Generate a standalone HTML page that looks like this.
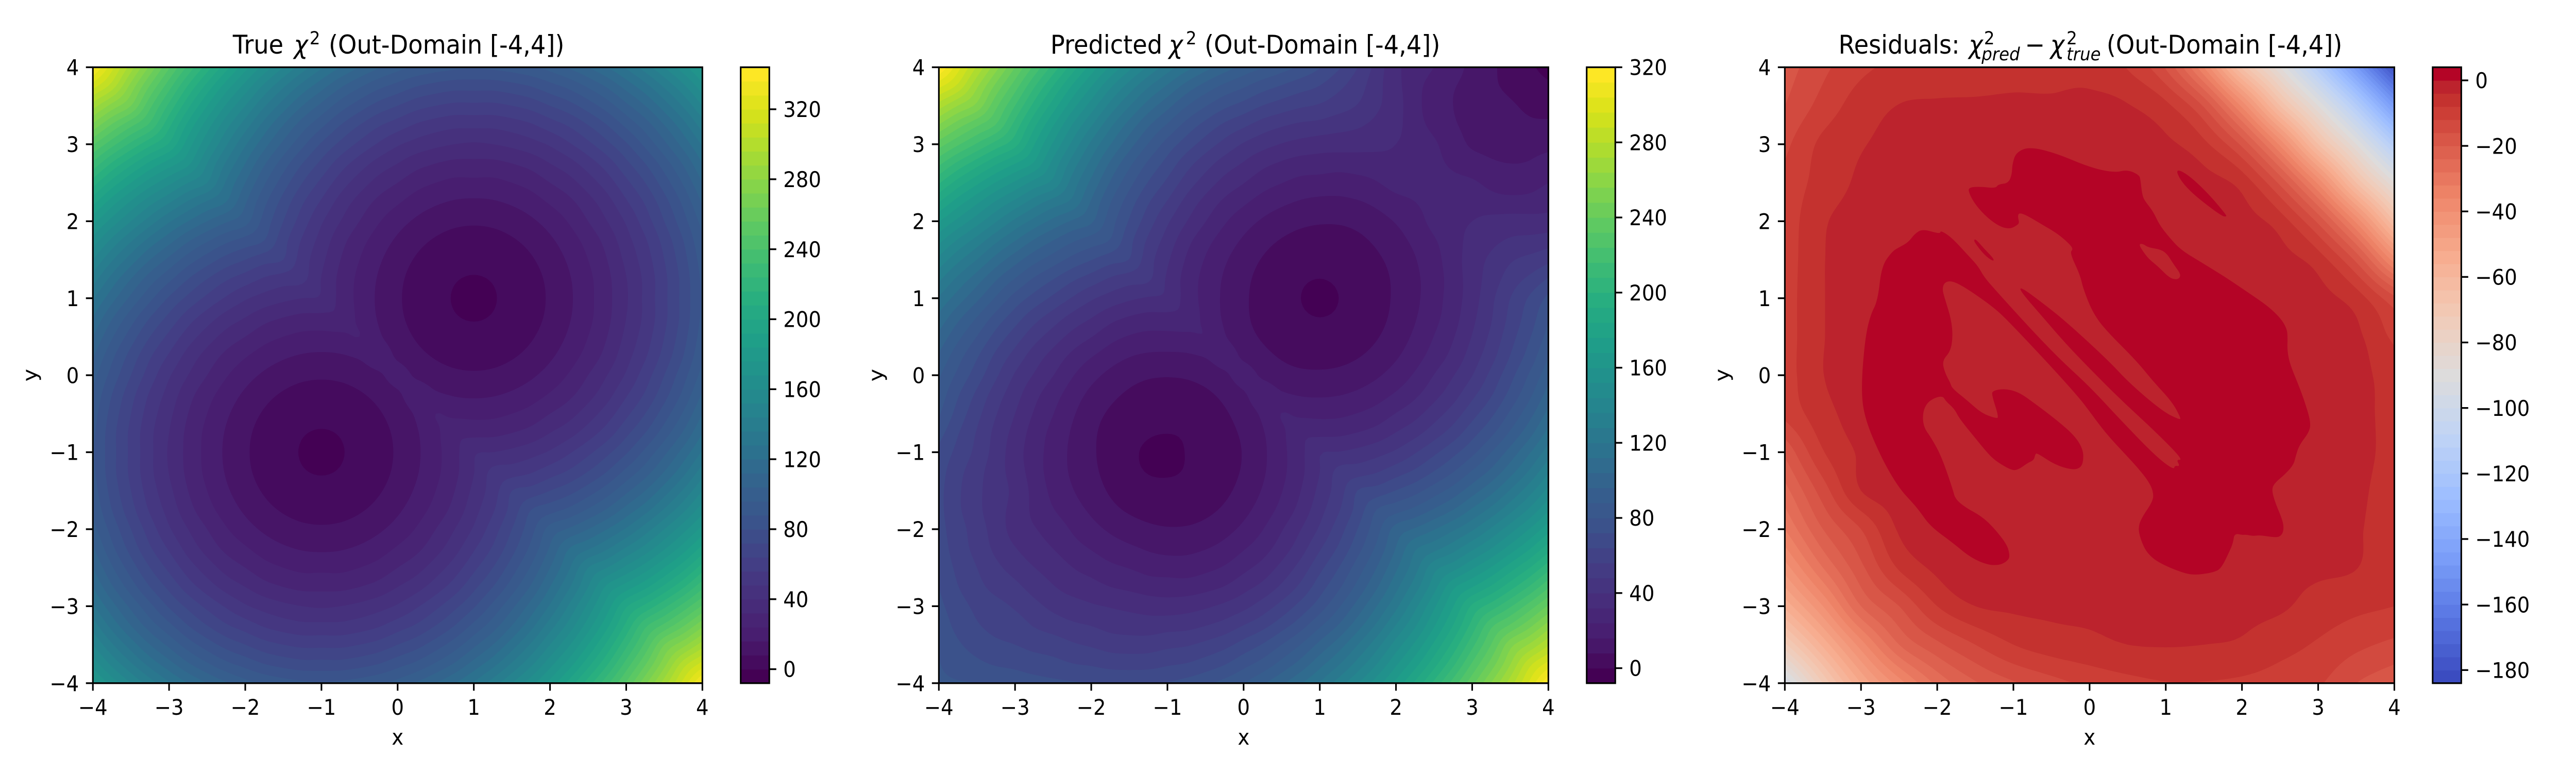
<!DOCTYPE html>
<html>
<head>
<meta charset="utf-8">
<title>Chi-squared out-domain comparison</title>
<style>
html,body{margin:0;padding:0;background:#fff;width:100%;height:100%;overflow:hidden;}
svg{display:block;width:100vw;height:100vh;}
text{font-family:"DejaVu Sans","Liberation Sans",sans-serif;fill:#000;}
.tick{font-size:41.67px;}
.label{font-size:41.67px;}
.title{font-size:50px;}
.sm{font-size:35px;}
.it{font-style:italic;}
</style>
</head>
<body>
<svg id="figure" xmlns="http://www.w3.org/2000/svg" viewBox="0 0 5400 1500" preserveAspectRatio="none">
  <rect x="0" y="0" width="5400" height="1500" fill="#ffffff"/>
  <g id="marks"></g>

  <text class="title" y="104"><tspan x="488">True </tspan><tspan x="616" class="it">χ</tspan><tspan x="649" y="86" class="sm">2</tspan><tspan x="689" y="104">(Out-Domain [-4,4])</tspan></text>
  <text class="title" y="104"><tspan x="2202">Predicted </tspan><tspan x="2450" class="it">χ</tspan><tspan x="2486" y="86" class="sm">2</tspan><tspan x="2525" y="104">(Out-Domain [-4,4])</tspan></text>
  <text class="title" y="104"><tspan x="3854">Residuals: </tspan><tspan x="4127" class="it">χ</tspan><tspan x="4159" y="86" class="sm">2</tspan><tspan x="4154" y="117" class="sm it">pred</tspan><tspan x="4245" y="104">−</tspan><tspan x="4298" class="it">χ</tspan><tspan x="4332" y="86" class="sm">2</tspan><tspan x="4332" y="117" class="sm it">true</tspan><tspan x="4416" y="104">(Out-Domain [-4,4])</tspan></text>

  <text class="label" text-anchor="middle" x="833.5" y="1445">x</text>
  <text class="label" text-anchor="middle" x="2607" y="1445">x</text>
  <text class="label" text-anchor="middle" x="4380.3" y="1445">x</text>
  <text class="label" text-anchor="middle" transform="translate(77 728) rotate(-90)">y</text>
  <text class="label" text-anchor="middle" transform="translate(1850.4 728) rotate(-90)">y</text>
  <text class="label" text-anchor="middle" transform="translate(3623.8 728) rotate(-90)">y</text>
</svg>

<script>
// ---- axis ticks ----
const xTicks = [-4,-3,-2,-1,0,1,2,3,4];
const yTicks = [-4,-3,-2,-1,0,1,2,3,4];
const trueColorbarTicks = [0,40,80,120,160,200,240,280,320];
const predictedColorbarTicks = [0,40,80,120,160,200,240,280,320];
const residualColorbarTicks = [0,-20,-40,-60,-80,-100,-120,-140,-160,-180];

// ---- contour levels ----
const trueLevels = [-8,0,8,16,24,32,40,48,56,64,72,80,88,96,104,112,120,128,136,144,152,160,168,176,184,192,200,208,216,224,232,240,248,256,264,272,280,288,296,304,312,320,328,336,344];
const predictedLevels = [-8,0,8,16,24,32,40,48,56,64,72,80,88,96,104,112,120,128,136,144,152,160,168,176,184,192,200,208,216,224,232,240,248,256,264,272,280,288,296,304,312,320];
const residualLevels = [-184,-180,-176,-172,-168,-164,-160,-156,-152,-148,-144,-140,-136,-132,-128,-124,-120,-116,-112,-108,-104,-100,-96,-92,-88,-84,-80,-76,-72,-68,-64,-60,-56,-52,-48,-44,-40,-36,-32,-28,-24,-20,-16,-12,-8,-4,0,4];

// ---- colormaps ----
const viridisStops = ["#440154","#481c6e","#472d7b","#433e85","#3b528b","#35608d","#2c728e","#26828e","#21918c","#1fa088","#28ae80","#3fbc73","#5ec962","#84d44b","#addc30","#d8e219","#fde725"];
const coolwarmStops = [[0,"#3b4cc0"],[0.1,"#5977e3"],[0.2,"#7b9ff9"],[0.3,"#9ebeff"],[0.4,"#c0d4f5"],[0.5,"#dddcdc"],[0.6,"#f2cbb7"],[0.7,"#f7ac8e"],[0.8,"#ee8468"],[0.9,"#d65244"],[0.95,"#c73530"],[0.975,"#bd282e"],[1,"#b40426"]];

// ---- True chi2, y = 4 down to y = 0 in 0.25 steps, x = -4 to 4 in 0.25 steps (the lower half is the point mirror) ----
const chi2TrueUpperRows = [
[339,315,292,270,249,230,212,195,179,165,152,140,129,120,112,105,99,95,92,90,89,90,92,95,99,105,112,120,129,140,152,165,179],
[315,300,277,255,235,215,197,180,165,150,137,125,115,105,97,90,85,80,77,75,75,75,77,80,85,90,97,105,115,125,137,150,165],
[292,277,264,242,222,202,184,167,152,137,124,112,102,92,84,77,72,67,64,62,62,62,64,67,72,77,84,92,102,112,124,137,152],
[270,255,242,230,210,190,172,155,140,125,112,100,90,80,72,65,60,55,52,50,50,50,52,55,60,65,72,80,90,100,112,125,140],
[249,235,222,210,199,180,162,145,129,115,102,90,79,70,62,55,49,45,42,40,39,40,42,45,49,55,62,70,79,90,102,115,129],
[230,215,202,190,180,170,152,135,120,105,92,80,70,60,52,45,40,35,32,30,30,30,32,35,40,45,52,60,70,80,92,105,120],
[212,197,184,172,162,152,144,127,112,97,84,72,62,52,44,37,32,27,24,22,22,22,24,27,32,37,44,52,62,72,84,97,112],
[195,180,167,155,145,135,127,120,105,90,77,65,55,45,37,30,25,20.3,17.2,15.3,14.7,15.3,17.2,20.3,25,30,37,45,55,65,77,90,105],
[179,165,152,140,129,120,112,105,99,85,72,60,49,40,32,24.7,19.1,14.7,11.6,9.7,9.1,9.7,11.6,14.7,19.1,24.7,32,40,49,60,72,85,99],
[165,150,137,125,115,105,97,90,85,80,67,55,45,35,27,20.3,14.7,10.3,7.2,5.3,4.7,5.3,7.2,10.3,14.7,20.3,27,35,45,55,67,80,95],
[152,137,124,112,102,92,84,77,72,67,64,52,42,32,24,17.2,11.6,7.2,4.1,2.2,1.6,2.2,4.1,7.2,11.6,17.2,24,32,42,52,64,77,92],
[140,125,112,100,90,80,72,65,60,55,52,50,39.7,30,22,15.3,9.7,5.3,2.2,0.3,-0.3,0.3,2.2,5.3,9.7,15.3,22,30,39.7,50,62,75,90],
[129,115,102,90,79,70,62,55,49,45,42,40,39,29.7,21.6,14.7,9.1,4.7,1.6,-0.3,-0.9,-0.3,1.6,4.7,9.1,14.7,21.6,29.7,39,50,62,75,89],
[120,105,92,80,70,60,52,45,40,35,32,30,29.7,30,22,15.3,9.7,5.3,2.2,0.3,-0.3,0.3,2.2,5.3,9.7,15.3,22,30,40,50,62,75,90],
[112,97,84,72,62,52,44,37,32,27,24,22,21.6,22,24,17.2,11.6,7.2,4.1,2.2,1.6,2.2,4.1,7.2,11.6,17.2,24,32,42,52,64,77,92],
[105,90,77,65,55,45,37,30,24.7,20.3,17.2,15.3,14.7,15.3,17.2,20.3,14.7,10.3,7.2,5.3,4.7,5.3,7.2,10.3,14.7,20.3,27,35,45,55,67,80,95],
[99,85,72,60,49,40,32,24.7,19.1,14.7,11.6,9.7,9.1,9.7,11.6,14.7,19.1,14.7,11.6,9.7,9.1,9.7,11.6,14.7,19.1,24.7,32,40,49,60,72,85,99]
];

// ---- Residuals, y = 4 down to y = -4 in 0.5 steps, x = -4 to 4 in 0.5 steps ----
const residualRows = [
[-18,-13,-9,-7,-6.3,-5.6,-5,-5,-5.5,-8.3,-16.5,-36,-65,-88,-115,-147,-181],
[-16,-10.5,-6,-3.9,-3.6,-3.6,-3.5,-3.5,-3,-3.8,-7,-16.5,-37,-64,-88,-115,-147],
[-13,-7,-4.3,-3,-2.8,-2.6,-2.2,-1.7,-1.8,-2.4,-3.2,-7,-17,-37,-64,-88,-115],
[-11,-6.2,-3.4,-2.4,-1.9,-1.3,0.2,0.3,0.3,0.2,-1,-2.5,-5.5,-17,-37,-64,-88],
[-10.5,-4.5,-2.8,-2.2,-1.6,-0.8,0.2,0.2,0.3,0.3,-0.3,-1.5,-2.5,-6,-17,-37,-64],
[-10.3,-4.2,-2.6,0.1,0.3,-0.3,-0.8,-0.6,0.2,0.3,0.2,0.2,-1,-2.6,-6,-17,-38],
[-10,-4.2,-2.2,0.2,0.2,-0.6,-0.8,-0.5,0.2,0.3,0.3,0.3,0.2,-1,-2.6,-6,-15],
[-10,-4.2,-2,0.2,0.3,-0.6,0.2,-0.5,-0.5,0.3,0.3,0.3,0.3,0.2,-1.6,-3.2,-9],
[-10,-4.1,-1.8,0.2,-0.5,-0.8,-0.6,-0.6,0.2,-0.3,0.3,0.3,0.3,0.2,-1.2,-2.7,-6],
[-11,-5.5,-2,0.2,-0.5,0.2,0.2,-0.6,0.2,0.2,0.3,0.3,0.3,0.3,-1,-2.7,-5.5],
[-19,-8.3,-3.4,-1,0.2,-0.6,0.3,0.3,-0.6,0.2,0.3,0.3,0.3,0.2,-1.2,-3,-5],
[-25.5,-14,-4,-2,0.2,-0.8,-0.4,-0.8,-0.8,-0.3,0.2,0.3,0.3,0.1,-1.6,-3.3,-5.5],
[-32,-20,-12,-3.5,-0.5,0.2,-0.5,-1.2,-1.2,-0.6,0.2,0.3,0.1,-0.5,-2.2,-3.6,-6],
[-42,-28,-17,-7.5,-3,-0.3,-1.6,-2,-2.2,-1.6,-0.2,-0.1,-1.5,-2.8,-3.3,-3.9,-7],
[-55,-40,-24,-16,-8,-4,-3.3,-3.2,-3.3,-3.3,-3,-2.8,-3.1,-3.5,-5.5,-7,-8],
[-73,-55,-38,-24,-17,-12,-8,-6,-5,-4,-3.8,-4,-4.5,-6.5,-8.5,-11,-13],
[-97,-72,-52,-38,-27,-20.5,-16.5,-13.5,-11,-9.3,-8.2,-8.2,-8.8,-10,-11.5,-16,-19]
];

// ---- Residual > 0 region outlines, in data coordinates (x, y) ----
const residualPositiveMain = [
[-1.016,2.729],[-0.97,2.89],[-0.79,2.97],[-0.43,2.88],[0,2.70],[0.32,2.63],[0.50,2.67],[0.65,2.60],[0.668,2.54],[0.689,2.35],[0.72,2.27],[0.835,2.127],[0.912,1.96],[1.043,1.793],[1.2,1.625],[1.46,1.47],[1.774,1.28],[2.087,1.07],[2.337,0.9],[2.504,0.745],[2.587,0.61],[2.60,0.50],[2.594,0.32],[2.63,0.143],[2.733,-0.103],[2.817,-0.326],[2.90,-0.593],[2.89,-0.727],[2.754,-0.905],[2.708,-1.04],[2.68,-1.16],[2.567,-1.285],[2.42,-1.407],[2.39,-1.496],[2.44,-1.664],[2.535,-1.886],[2.55,-2.009],[2.514,-2.087],[2.44,-2.11],[2.233,-2.076],[2.149,-2.09],[2.055,-2.07],[2.014,-2.076],[1.9,-2.054],[1.884,-2.176],[1.836,-2.288],[1.732,-2.5],[1.648,-2.555],[1.419,-2.595],[1.252,-2.578],[0.918,-2.444],[0.751,-2.31],[0.668,-2.13],[0.636,-1.976],[0.689,-1.842],[0.835,-1.63],[0.835,-1.508],[0.772,-1.374],[0.626,-1.195],[0.459,-1.017],[0.209,-0.75],[0,-0.471],
[-0.146,-0.281],[-0.574,0.187],[-1.043,0.678],[-1.252,0.878],[-1.607,1.124],[-1.795,1.224],[-1.899,1.213],[-1.936,1.124],[-1.899,0.99],[-1.815,0.722],[-1.795,0.499],[-1.826,0.31],[-1.936,0.187],[-1.899,0.031],[-1.826,-0.103],[-1.805,-0.17],
[-1.607,-0.326],[-1.419,-0.493],[-1.231,-0.56],[-1.19,-0.549],[-1.283,-0.259],[-1.273,-0.203],[-1.127,-0.174],[-0.939,-0.214],[-0.73,-0.359],[-0.417,-0.593],[-0.188,-0.794],[-0.083,-0.972],[-0.083,-1.129],[-0.125,-1.207],[-0.23,-1.229],[-0.459,-1.162],[-0.689,-1.01],[-0.714,-1.028],[-0.73,-1.102],[-0.814,-1.14],[-0.939,-1.229],[-1.023,-1.236],[-1.21,-1.129],[-1.315,-1.039],[-1.502,-0.816],[-1.711,-0.56],[-1.774,-0.437],[-1.888,-0.337],[-1.92,-0.277],[-2.003,-0.281],[-2.128,-0.348],[-2.191,-0.482],[-2.181,-0.671],[-2.076,-0.816],[-1.941,-1.062],[-1.795,-1.485],[-1.763,-1.608],[-1.628,-1.719],[-1.419,-1.831],[-1.252,-1.987],[-1.085,-2.199],[-1.048,-2.333],[-1.064,-2.4],[-1.169,-2.466],[-1.335,-2.466],[-1.565,-2.366],[-1.795,-2.177],[-2.087,-1.965],[-2.233,-1.764],[-2.316,-1.664],[-2.504,-1.463],
[-2.73,-1.08],[-2.95,-0.57],[-3.0,-0.19],[-2.95,0.455],[-2.88,0.776],[-2.78,0.968],[-2.73,1.417],[-2.59,1.609],[-2.504,1.659],[-2.379,1.726],[-2.295,1.837],[-2.191,1.90],[-1.961,1.833],[-1.957,1.882],[-1.815,1.793],[-1.607,1.57],[-1.461,1.414],[-1.388,1.28],[-1.252,1.124],[-0.835,0.667],[-0.417,0.232],[0,-0.147],[0.417,-0.593],[0.876,-1.06],[1.106,-1.229],[1.116,-1.173],[1.189,-1.184],[1.137,-1.095],[1.231,-1.1],[0.835,-0.705],[0.417,-0.326],[0,0.087],[-0.313,0.41],[-0.626,0.767],[-0.908,1.09],[-0.908,1.15],[-0.626,0.945],[-0.313,0.70],[0.25,0.187],[0.522,-0.103],[0.96,-0.471],[1.189,-0.582],[1.194,-0.549],[1.085,-0.348],[0.835,-0.081],[0.616,0.187],[0.209,0.588],[0.042,0.811],[-0.084,1.124],[-0.125,1.302],[-0.261,1.592],[-0.215,1.636],[-0.261,1.703],[-0.417,1.837],[-0.616,1.953],[-0.835,2.082],[-0.929,2.109],[-0.943,2.06],[-0.922,1.982],[-0.949,1.949],[-1.043,1.9],[-1.169,1.926],[-1.336,2.038],[-1.502,2.216],[-1.586,2.372],[-1.586,2.439],[-1.44,2.45],[-1.231,2.428],[-1.2,2.479],[-1.064,2.495],[-1.018,2.618]
];
const residualPositiveHole = [[0.647,1.703],[0.699,1.708],[0.772,1.659],[0.939,1.632],[1.022,1.57],[1.106,1.436],[1.189,1.324],[1.189,1.269],[1.137,1.24],[1.043,1.269],[0.897,1.414],[0.772,1.514],[0.689,1.625]];
const residualPositiveLeafUpper = [[1.137,2.658],[1.2,2.658],[1.356,2.551],[1.586,2.328],[1.794,2.082],[1.794,2.06],[1.742,2.065],[1.502,2.238],[1.315,2.395],[1.189,2.54]];
const residualPositiveLeafLeft = [[-1.519,1.759],[-1.492,1.766],[-1.377,1.636],[-1.258,1.514],[-1.262,1.476],[-1.377,1.558],[-1.502,1.714]];

// ---- layout ----
const SVGNS = "http://www.w3.org/2000/svg";
const marks = document.getElementById("marks");
const axTop = 130.5, axBottom = 1325.7, axWidth = 1277.7;
const cbOffset = 1358, cbWidth = 60;
const tickLen = 14.6, tickPad = 14.6, lineW = 3.33;
const FINE = 161;

function el(tag, attrs){
  const n = document.createElementNS(SVGNS, tag);
  for (const k in attrs) n.setAttribute(k, attrs[k]);
  return n;
}
function hexToRgb(h){ return [parseInt(h.slice(1,3),16),parseInt(h.slice(3,5),16),parseInt(h.slice(5,7),16)]; }
function mix(a,b,t){
  const p=hexToRgb(a), q=hexToRgb(b);
  return "rgb("+[0,1,2].map(function(i){return Math.round(p[i]+(q[i]-p[i])*t);}).join(",")+")";
}
function viridis(t){
  const s=t*(viridisStops.length-1), i=Math.min(Math.floor(s),viridisStops.length-2);
  return mix(viridisStops[i],viridisStops[i+1],s-i);
}
function coolwarm(t){
  for(let i=0;i<coolwarmStops.length-1;i++){
    const a=coolwarmStops[i], b=coolwarmStops[i+1];
    if(t<=b[0]) return mix(a[1],b[1],(t-a[0])/(b[0]-a[0]));
  }
  return coolwarmStops[coolwarmStops.length-1][1];
}
function tickText(v){ return v<0 ? "\u2212"+Math.abs(v) : String(v); }

// ---- field sampling ----
function nodeAt(G,r,c){
  const nr=G.length-1, nc=G[0].length-1;
  if(r<0) return 2*nodeAt(G,0,c)-nodeAt(G,1,c);
  if(r>nr) return 2*nodeAt(G,nr,c)-nodeAt(G,nr-1,c);
  if(c<0) return 2*G[r][0]-G[r][1];
  if(c>nc) return 2*G[r][nc]-G[r][nc-1];
  return G[r][c];
}
function crWeights(t){
  const t2=t*t,t3=t2*t;
  return [-0.5*t3+t2-0.5*t, 1.5*t3-2.5*t2+1, -1.5*t3+2*t2+0.5*t, 0.5*t3-0.5*t2];
}
function sampleGrid(G,x,y){
  const nr=G.length-1, nc=G[0].length-1;
  const u=(x+4)/8*nc, v=(4-y)/8*nr;
  const c0=Math.min(Math.floor(u),nc-1), r0=Math.min(Math.floor(v),nr-1);
  const wu=crWeights(u-c0), wv=crWeights(v-r0);
  let s=0;
  for(let a=0;a<4;a++) for(let b=0;b<4;b++) s+=wv[a]*wu[b]*nodeAt(G,r0+a-1,c0+b-1);
  return s;
}
const chi2TrueRows = chi2TrueUpperRows.concat(chi2TrueUpperRows.slice(0,-1).reverse().map(function(r){return r.slice().reverse();}));

function fineField(fn){
  const F=[];
  for(let j=0;j<FINE;j++){
    const row=new Float64Array(FINE), y=4-8*j/(FINE-1);
    for(let i=0;i<FINE;i++) row[i]=fn(-4+8*i/(FINE-1),y);
    F.push(row);
  }
  return F;
}
const trueField = fineField(function(x,y){return sampleGrid(chi2TrueRows,x,y);});
const residualField = fineField(function(x,y){return sampleGrid(residualRows,x,y);});
const predictedField = trueField.map(function(row,j){return row.map(function(v,i){return v+residualField[j][i];});});

// ---- marching squares: closed outline of {f >= level} ----
function contourPath(F,xs,ys,level){
  const n=F.length, W=n+2, OUT=-1e12;
  const val=function(i,j){return (i<0||j<0||i>=n||j>=n)?OUT:F[j][i];};
  const X=function(i){return xs[Math.max(0,Math.min(n-1,i))];};
  const Y=function(j){return ys[Math.max(0,Math.min(n-1,j))];};
  const pts=new Map(), adj=new Map();
  const hk=function(i,j){
    const k=((j+1)*W+(i+1))*2;
    if(!pts.has(k)){
      const a=val(i,j),b=val(i+1,j),t=(level-a)/(b-a);
      pts.set(k,[X(i)+t*(X(i+1)-X(i)),Y(j)]);
    }
    return k;
  };
  const vk=function(i,j){
    const k=((j+1)*W+(i+1))*2+1;
    if(!pts.has(k)){
      const a=val(i,j),b=val(i,j+1),t=(level-a)/(b-a);
      pts.set(k,[X(i),Y(j)+t*(Y(j+1)-Y(j))]);
    }
    return k;
  };
  const seg=function(p,q){
    if(!adj.has(p)) adj.set(p,[]);
    if(!adj.has(q)) adj.set(q,[]);
    adj.get(p).push(q); adj.get(q).push(p);
  };
  for(let j=-1;j<n;j++){
    for(let i=-1;i<n;i++){
      const idx=(val(i,j)>=level?8:0)+(val(i+1,j)>=level?4:0)+(val(i+1,j+1)>=level?2:0)+(val(i,j+1)>=level?1:0);
      if(idx===0||idx===15) continue;
      const T=function(){return hk(i,j);},B=function(){return hk(i,j+1);},L=function(){return vk(i,j);},R=function(){return vk(i+1,j);};
      switch(idx){
        case 1: case 14: seg(L(),B()); break;
        case 2: case 13: seg(B(),R()); break;
        case 3: case 12: seg(L(),R()); break;
        case 4: case 11: seg(T(),R()); break;
        case 6: case 9: seg(T(),B()); break;
        case 7: case 8: seg(L(),T()); break;
        case 5: seg(T(),R()); seg(L(),B()); break;
        case 10: seg(L(),T()); seg(B(),R()); break;
      }
    }
  }
  const seen=new Set(); let d=[];
  adj.forEach(function(_,start){
    if(seen.has(start)) return;
    let cur=start, prev=-1, first=true;
    const parts=[];
    while(cur!==undefined && !seen.has(cur)){
      seen.add(cur);
      const p=pts.get(cur);
      parts.push((first?"M":"L")+p[0].toFixed(1)+" "+p[1].toFixed(1));
      first=false;
      const nb=adj.get(cur);
      const next=(nb[0]!==prev&&!seen.has(nb[0]))?nb[0]:nb[1];
      prev=cur; cur=next;
    }
    d.push(parts.join("")+"Z");
  });
  return d.join("");
}

// ---- panel drawing ----
function smoothLoop(points,xScale,yScale){
  const P=points.map(function(p){return [xScale(p[0]),yScale(p[1])];});
  const n=P.length;
  const mid=function(a,b){return [(a[0]+b[0])/2,(a[1]+b[1])/2];};
  let m=mid(P[n-1],P[0]);
  let d="M"+m[0].toFixed(1)+" "+m[1].toFixed(1);
  for(let i=0;i<n;i++){
    const q=mid(P[i],P[(i+1)%n]);
    d+="Q"+P[i][0].toFixed(1)+" "+P[i][1].toFixed(1)+" "+q[0].toFixed(1)+" "+q[1].toFixed(1);
  }
  return d+"Z";
}

function drawPanel(prefix,left,field,levels,cmap,cbTicks,topRegions){
  const xScale=function(v){return left+(v+4)/8*axWidth;};
  const yScale=function(v){return axTop+(4-v)/8*(axBottom-axTop);};
  const xs=[],ys=[];
  for(let i=0;i<FINE;i++){ xs.push(xScale(-4+8*i/(FINE-1))); ys.push(yScale(4-8*i/(FINE-1))); }
  const nBands=levels.length-1;
  const bandColor=function(i){return cmap(i/(nBands-1));};

  const g=el("g",{});
  
  
  marks.appendChild(g);

  const base=el("rect",{x:xScale(-4),y:yScale(4),width:axWidth,height:axBottom-axTop,fill:bandColor(0)});
  
  
  g.appendChild(base);

  const lastField = topRegions ? nBands-2 : nBands-1;
  for(let i=1;i<=lastField;i++){
    const d=contourPath(field,xs,ys,levels[i]);
    if(!d) continue;
    const b=el("path",{d:d,fill:bandColor(i),"fill-rule":"evenodd"});
    
    
    g.appendChild(b);
  }
  if(topRegions){
    const d=topRegions.map(function(r){return smoothLoop(r,xScale,yScale);}).join("");
    const b=el("path",{d:d,fill:bandColor(nBands-1),"fill-rule":"evenodd"});
    
    
    g.appendChild(b);
  }

  const frame=el("rect",{x:xScale(-4),y:yScale(4),width:axWidth,height:axBottom-axTop,fill:"none",stroke:"#000","stroke-width":lineW});
  
  
  g.appendChild(frame);

  xTicks.forEach(function(v){
    const x=xScale(v);
    const t=el("line",{x1:x,x2:x,y1:axBottom,y2:axBottom+tickLen,stroke:"#000","stroke-width":lineW});
    
    
    g.appendChild(t);
    const l=el("text",{x:x,y:1387,"text-anchor":"middle",class:"tick"});
    
    
    l.textContent=tickText(v);
    g.appendChild(l);
  });
  yTicks.forEach(function(v){
    const y=yScale(v);
    const t=el("line",{x1:left-tickLen,x2:left,y1:y,y2:y,stroke:"#000","stroke-width":lineW});
    
    
    g.appendChild(t);
    const l=el("text",{x:left-tickLen-tickPad,y:y+15.2,"text-anchor":"end",class:"tick"});
    
    
    l.textContent=tickText(v);
    g.appendChild(l);
  });

  // colorbar
  const cbLeft=left+cbOffset;
  const vMin=levels[0], vMax=levels[levels.length-1];
  const cbY=function(v){return axBottom-(v-vMin)/(vMax-vMin)*(axBottom-axTop);};
  const cb=el("g",{});
  
  
  g.appendChild(cb);
  for(let i=0;i<nBands;i++){
    const top=cbY(levels[i+1]), bot=cbY(levels[i]);
    const r=el("rect",{x:cbLeft,y:top,width:cbWidth,height:bot-top+(i>0?0.6:0),fill:bandColor(i)});
    
    
    cb.appendChild(r);
  }
  const cbFrame=el("rect",{x:cbLeft,y:axTop,width:cbWidth,height:axBottom-axTop,fill:"none",stroke:"#000","stroke-width":lineW});
  
  
  cb.appendChild(cbFrame);
  cbTicks.forEach(function(v){
    const y=cbY(v);
    const t=el("line",{x1:cbLeft+cbWidth,x2:cbLeft+cbWidth+tickLen,y1:y,y2:y,stroke:"#000","stroke-width":lineW});
    
    
    cb.appendChild(t);
    const l=el("text",{x:cbLeft+cbWidth+tickLen+tickPad,y:y+15.2,class:"tick"});
    
    
    l.textContent=tickText(v);
    cb.appendChild(l);
  });
}

drawPanel("true",194.7,trueField,trueLevels,viridis,trueColorbarTicks,null);
drawPanel("predicted",1968.1,predictedField,predictedLevels,viridis,predictedColorbarTicks,null);
drawPanel("residual",3741.5,residualField,residualLevels,coolwarm,residualColorbarTicks,[residualPositiveMain,residualPositiveHole,residualPositiveLeafUpper,residualPositiveLeafLeft]);
</script>
</body>
</html>
